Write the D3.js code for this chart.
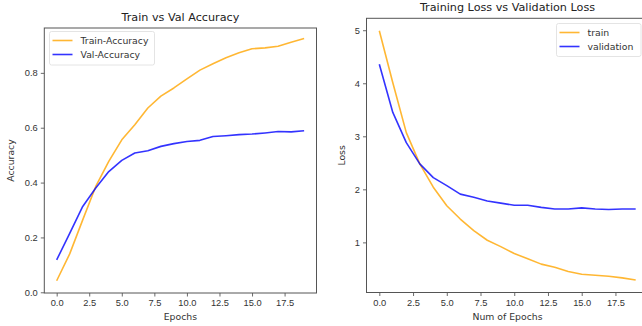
<!DOCTYPE html>
<html>
<head>
<meta charset="utf-8">
<script src="https://cdn.jsdelivr.net/npm/d3@7"></script>
<style>
  body { margin: 0; background: #fff; }
  svg { display: block; font-family: "DejaVu Sans", sans-serif; }
  .tick text { fill: #333; }
</style>
</head>
<body>
<div id="chart"></div>
<script>
const epochs = d3.range(20);

// accuracy panel
const trainAcc = [0.042, 0.14, 0.264, 0.386, 0.477, 0.556, 0.611, 0.672, 0.715, 0.745,
                  0.778, 0.81, 0.833, 0.855, 0.873, 0.888, 0.891, 0.897, 0.912, 0.925];
const valAcc = [0.118, 0.215, 0.313, 0.38, 0.44, 0.481, 0.508, 0.516, 0.532, 0.542,
                0.55, 0.554, 0.568, 0.571, 0.575, 0.577, 0.581, 0.586, 0.585, 0.589];

// loss panel
const trainLoss = [4.99, 4.01, 3.07, 2.48, 2.04, 1.69, 1.44, 1.22, 1.04, 0.92,
                   0.79, 0.69, 0.59, 0.53, 0.45, 0.40, 0.38, 0.36, 0.33, 0.29];
const valLoss = [4.36, 3.45, 2.88, 2.48, 2.22, 2.07, 1.91, 1.85, 1.78, 1.74,
                 1.70, 1.70, 1.66, 1.63, 1.63, 1.65, 1.63, 1.62, 1.63, 1.63];

const xTicks = [0, 2.5, 5, 7.5, 10, 12.5, 15, 17.5];
const accTicks = [0, 0.2, 0.4, 0.6, 0.8];
const lossTicks = [1, 2, 3, 4, 5];

const width = 642, height = 326;
const ORANGE = 'orange', BLUE = 'blue';

const svg = d3.select('#chart').append('svg')
  .attr('width', width)
  .attr('height', height);

function drawPanel(opts) {
  const x = d3.scaleLinear().domain([-0.95, 19.95]).range([opts.left, opts.right]);
  const y = d3.scaleLinear().domain(opts.yDomain).range([opts.bottom, opts.top]);

  const g = svg.append('g');

  // lines
  const line = d3.line().x((d, i) => x(epochs[i])).y(d => y(d));
  opts.series.forEach(s => {
    g.append('path')
      .datum(s.values)
      .attr('fill', 'none')
      .attr('stroke', s.color)
      .attr('stroke-opacity', 0.8)
      .attr('stroke-width', 1.6)
      .attr('stroke-linejoin', 'round')
      .attr('d', line);
  });

  // axes
  const xAxis = g.append('g')
    .attr('transform', 'translate(0,' + opts.bottom + ')')
    .call(d3.axisBottom(x).tickValues(xTicks).tickFormat(d3.format('.1f')).tickSize(3.5).tickPadding(3));
  const yAxis = g.append('g')
    .attr('transform', 'translate(' + opts.left + ',0)')
    .call(d3.axisLeft(y).tickValues(opts.yTicks).tickFormat(opts.yFormat).tickSize(3.5).tickPadding(3));
  [xAxis, yAxis].forEach(a => {
    a.select('.domain').remove();
    a.selectAll('.tick line').attr('stroke', '#444').attr('stroke-width', 0.8);
    a.selectAll('.tick text').attr('font-size', 9.3);
  });

  // frame
  g.append('rect')
    .attr('x', opts.left)
    .attr('y', opts.top)
    .attr('width', opts.right - opts.left)
    .attr('height', opts.bottom - opts.top)
    .attr('fill', 'none')
    .attr('stroke', '#555')
    .attr('stroke-width', 1);

  // title and labels
  const cx = (opts.left + opts.right) / 2;
  svg.append('text')
    .attr('x', cx).attr('y', opts.top - 7)
    .attr('text-anchor', 'middle')
    .attr('font-size', 11.2)
    .attr('fill', '#222')
    .text(opts.title);
  svg.append('text')
    .attr('x', cx).attr('y', 320)
    .attr('text-anchor', 'middle')
    .attr('font-size', 9.3)
    .attr('fill', '#333')
    .text(opts.xLabel);
  svg.append('text')
    .attr('transform', 'translate(' + opts.yLabelX + ',' + ((opts.top + opts.bottom) / 2) + ') rotate(-90)')
    .attr('text-anchor', 'middle')
    .attr('font-size', 9.3)
    .attr('fill', '#333')
    .text(opts.yLabel);

  // legend
  const lg = opts.legend;
  svg.append('rect')
    .attr('x', lg.x).attr('y', lg.y)
    .attr('width', lg.w).attr('height', lg.h)
    .attr('rx', 2)
    .attr('fill', '#fff')
    .attr('fill-opacity', 0.8)
    .attr('stroke', '#ddd')
    .attr('stroke-width', 0.8);
  opts.series.forEach((s, i) => {
    const ly = lg.y + 9 + i * 14;
    svg.append('line')
      .attr('x1', lg.x + 3).attr('x2', lg.x + 23)
      .attr('y1', ly).attr('y2', ly)
      .attr('stroke', s.color)
      .attr('stroke-opacity', 0.8)
      .attr('stroke-width', 1.6);
    svg.append('text')
      .attr('x', lg.x + 31).attr('y', ly + 3.3)
      .attr('font-size', 9.3)
      .attr('fill', '#333')
      .text(s.name);
  });
}

drawPanel({
  left: 44.3, right: 316.5, top: 28, bottom: 293,
  yDomain: [-0.0026, 0.9636],
  yTicks: accTicks,
  yFormat: d3.format('.1f'),
  title: 'Train vs Val Accuracy',
  xLabel: 'Epochs',
  yLabel: 'Accuracy',
  yLabelX: 14,
  legend: { x: 49.5, y: 31.5, w: 105, h: 33.5 },
  series: [
    { name: 'Train-Accuracy', values: trainAcc, color: ORANGE },
    { name: 'Val-Accuracy', values: valAcc, color: BLUE }
  ]
});

drawPanel({
  left: 366.5, right: 648.5, top: 18.3, bottom: 292.5,
  yDomain: [0.055, 5.225],
  yTicks: lossTicks,
  yFormat: d3.format('d'),
  title: 'Training Loss vs Validation Loss',
  xLabel: 'Num of Epochs',
  yLabel: 'Loss',
  yLabelX: 345,
  legend: { x: 556.5, y: 23.5, w: 84.5, h: 33 },
  series: [
    { name: 'train', values: trainLoss, color: ORANGE },
    { name: 'validation', values: valLoss, color: BLUE }
  ]
});
</script>
</body>
</html>
